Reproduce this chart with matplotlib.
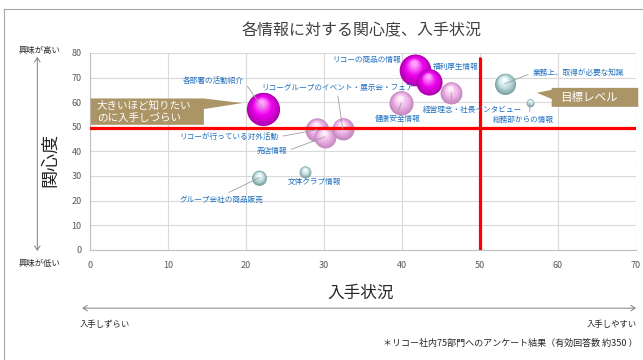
"""Bubble chart: interest vs. availability of internal information"""
import matplotlib
matplotlib.use("Agg")
import matplotlib.pyplot as plt
import matplotlib.colors as mcolors
from matplotlib.patches import Polygon, FancyArrowPatch
from matplotlib.lines import Line2D
from matplotlib.transforms import offset_copy

plt.rcParams["font.family"] = ["Noto Sans CJK JP", "DejaVu Sans"]

# data
items = ["各部署の活動紹介", "リコーの商品の情報", "福利厚生情報", "経営理念・社長インタビュー",
         "健康安全情報", "リコーが行っている対外活動", "売店情報",
         "リコーグループのイベント・展示会・フェア", "業務上、取得が必要な知識",
         "総務部からの情報", "文体クラブ情報", "グループ会社の商品販売"]
access = [22.2, 41.7, 43.5, 46.3, 39.9, 29.1, 30.1, 32.4, 53.2, 56.4, 27.6, 21.7]
interest = [57.3, 73.2, 68.3, 63.8, 59.8, 48.8, 45.9, 49.2, 67.5, 59.8, 31.7, 29.3]
bubble = [110, 100, 68, 48, 58, 56, 48, 48, 44, 6, 14, 22]
group = ["hot", "hot", "hot", "warm", "warm", "warm", "warm", "warm",
         "cool", "cool", "cool", "cool"]
target_access = 50
target_interest = 49.5

x_ticks = [0, 10, 20, 30, 40, 50, 60, 70]
y_ticks = [0, 10, 20, 30, 40, 50, 60, 70, 80]

# label placement: (x, y, ha, relpos for leader or None)
label_pos = [
    (15.8, 68.6, "center", (1, 0.5)),
    (39.9, 77.2, "right", None),
    (44.0, 74.3, "left", None),
    (49.0, 56.9, "center", (0.3, 1)),
    (39.4, 53.2, "center", (0.5, 1)),
    (24.2, 45.9, "right", (1, 0.5)),
    (25.3, 40.2, "right", (1, 0.5)),
    (31.7, 65.8, "center", (0.5, 0)),
    (56.7, 71.9, "left", (0, 0.5)),
    (55.6, 52.8, "center", (0.6, 1)),
    (28.8, 27.6, "center", None),
    (16.9, 20.3, "center", (0.5, 1)),
]

palette = {
    "hot": ("#b000b0", "#ee00ee", "#ffa0ff"),
    "warm": ("#c58ac0", "#efb6ea", "#fff0fd"),
    "cool": ("#7fa3a6", "#c4e0e0", "#f5ffff"),
}


def mix(a, b, t):
    a = mcolors.to_rgb(a)
    b = mcolors.to_rgb(b)
    return tuple(a[i] + (b[i] - a[i]) * t for i in range(3))


fig = plt.figure(figsize=(6.43, 3.6), dpi=100)
ax = fig.add_axes([0.140, 0.306, 0.849, 0.547])

# shaded bubbles
layers = 14
for i in range(len(items)):
    dark, main, light = palette[group[i]]
    s = bubble[i] * 5.2
    R = s ** 0.5 / 2
    for k in range(layers):
        t = k / (layers - 1)
        frac = 1 - 0.82 * t
        if t < 0.5:
            c = mix(dark, main, t * 2)
        else:
            c = mix(main, light, (t - 0.5) * 2)
        tr = offset_copy(ax.transData, fig=fig, x=-0.1 * R * t, y=0.4 * R * t, units="points")
        ax.scatter([access[i]], [interest[i]], s=s * frac ** 2, color=c, linewidths=0,
                   transform=tr, zorder=3 + i * 0.01 + k * 0.0005)

# target lines
ax.axhline(target_interest, color="#ff0000", lw=2.3, zorder=5)
ax.vlines(target_access, 0, 78.5, color="#ff0000", lw=2.3, zorder=5)

# labels
for i, name in enumerate(items):
    lx, ly, ha, rel = label_pos[i]
    if rel is None:
        ax.text(lx, ly, name, ha=ha, va="center", fontsize=5.5, color="#1f6fbf", zorder=7)
    else:
        ax.annotate(name, xy=(access[i], interest[i]), xytext=(lx, ly), ha=ha, va="center",
                    fontsize=5.5, color="#1f6fbf", zorder=7,
                    arrowprops=dict(arrowstyle="-", color="#a0a0a0", lw=0.6,
                                    relpos=rel, shrinkA=1, shrinkB=0))

# callouts
box1 = Polygon([(0.1, 50.8), (0.1, 61.5), (14.6, 61.5), (19.5, 59.6), (14.6, 57.2), (14.6, 50.8)],
               closed=True, facecolor="#ab9466", edgecolor="none", zorder=6, clip_on=False)
ax.add_patch(box1)
ax.text(0.9, 58.8, "大きいほど知りたい", fontsize=7.6, color="white", va="center", zorder=7)
ax.text(0.9, 53.6, "のに入手しづらい", fontsize=7.6, color="white", va="center", zorder=7)

box2 = Polygon([(59.2, 58.1), (59.2, 61.3), (57.3, 63.8), (59.2, 65.0), (59.2, 65.8),
                (70.3, 65.8), (70.3, 58.1)],
               closed=True, facecolor="#ab9466", edgecolor="none", zorder=6, clip_on=False)
ax.add_patch(box2)
ax.text(60.3, 62.0, "目標レベル", fontsize=8.3, color="white", va="center", zorder=7)

# axes styling
ax.set_xlim(0, 70)
ax.set_ylim(0, 80)
ax.set_xticks(x_ticks)
ax.set_yticks(y_ticks)
ax.grid(True, color="#d9d9d9", lw=0.8, zorder=0)
ax.set_axisbelow(True)
for side in ["top", "right"]:
    ax.spines[side].set_visible(False)
for side in ["left", "bottom"]:
    ax.spines[side].set_color("#bfbfbf")
ax.tick_params(length=0, labelsize=6.5, labelcolor="#595959")
ax.tick_params(axis="x", pad=8)
ax.tick_params(axis="y", pad=6)

# figure texts and arrows
fig.text(0.563, 0.914, "各情報に対する関心度、入手状況", ha="center", va="center",
         fontsize=11.5, color="#404040")
fig.text(0.061, 0.861, "興味が高い", ha="center", va="center", fontsize=6, color="#262626")
fig.text(0.061, 0.269, "興味が低い", ha="center", va="center", fontsize=6, color="#262626")
fig.text(0.078, 0.556, "関心度", ha="center", va="center", fontsize=13, rotation=90,
         color="#262626")
fig.text(0.561, 0.186, "入手状況", ha="center", va="center", fontsize=12, color="#262626")
fig.text(0.124, 0.100, "入手しずらい", ha="left", va="center", fontsize=6, color="#262626")
fig.text(0.991, 0.100, "入手しやすい", ha="right", va="center", fontsize=6, color="#262626")
fig.text(0.991, 0.047, "＊リコー社内75部門へのアンケート結果（有効回答数 約350 ）", ha="right",
         va="center", fontsize=6.5, color="#262626")

fig.add_artist(FancyArrowPatch((0.058, 0.842), (0.058, 0.303), transform=fig.transFigure,
                               arrowstyle="<->,head_length=3,head_width=2", color="#808080",
                               lw=0.7, shrinkA=0, shrinkB=0))
fig.add_artist(FancyArrowPatch((0.128, 0.144), (0.989, 0.144), transform=fig.transFigure,
                               arrowstyle="<->,head_length=3,head_width=2", color="#808080",
                               lw=0.7, shrinkA=0, shrinkB=0))

# outer frame
fig.add_artist(Line2D([0.006, 0.006], [0.0, 0.975], transform=fig.transFigure,
                      color="#a6a6a6", lw=0.8))
fig.add_artist(Line2D([0.006, 1.0], [0.975, 0.975], transform=fig.transFigure,
                      color="#a6a6a6", lw=0.8))

fig.savefig("out.png", dpi=100)
